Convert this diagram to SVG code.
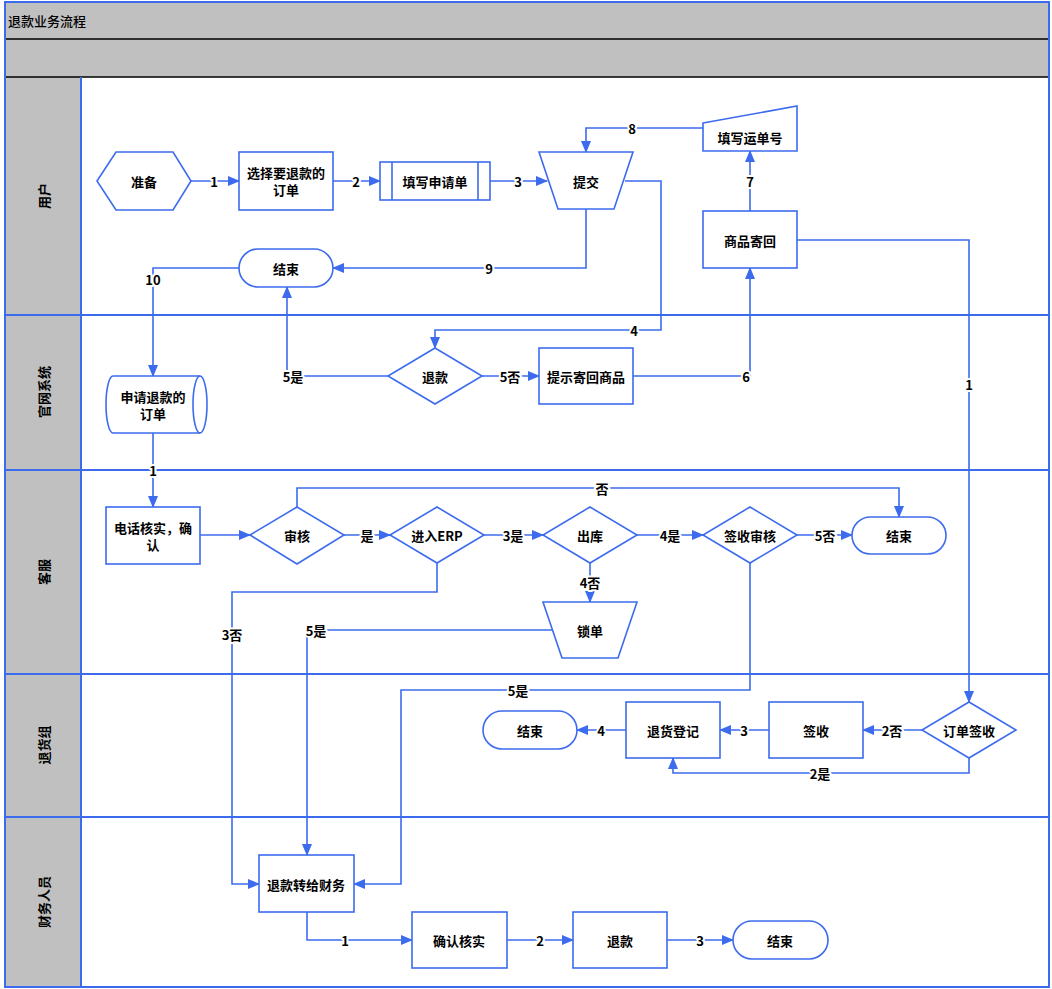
<svg xmlns="http://www.w3.org/2000/svg" width="1052" height="989" viewBox="0 0 1052 989">
<defs>
<marker id="ah" markerUnits="userSpaceOnUse" markerWidth="12" markerHeight="10" refX="11" refY="5" orient="auto">
<path d="M0,0 L12,5 L0,10 Z" fill="#3C6BEE"/>
</marker>
<style>
.frame{fill:none;stroke:#3C6BEE;stroke-width:2}
.hdr{fill:#C0C0C0}
.lanebg{fill:#C0C0C0}
.node{fill:#fff;stroke:#3C6BEE;stroke-width:1.6}
.nline{fill:none;stroke:#3C6BEE;stroke-width:1.6}
.t{font-family:"Noto Sans CJK SC","Microsoft YaHei",sans-serif;font-size:13px;font-weight:600;fill:#000;text-anchor:middle;dominant-baseline:central}
.lane{font-family:"Noto Sans CJK SC",sans-serif;font-size:13px;font-weight:700;fill:#000;text-anchor:middle;dominant-baseline:central}
.title{font-family:"Noto Sans CJK SC",sans-serif;font-size:13px;font-weight:500;fill:#000;dominant-baseline:central}
.c{fill:none;stroke:#3C6BEE;stroke-width:1.6}
.ca{fill:none;stroke:#3C6BEE;stroke-width:1.6;marker-end:url(#ah)}
.lb{font-family:"Noto Sans CJK SC",sans-serif;font-size:13px;font-weight:700;fill:#000;text-anchor:middle;dominant-baseline:central;paint-order:stroke;stroke:#fff;stroke-width:4px;stroke-linejoin:round}
</style>
</defs>
<rect width="1052" height="989" fill="#fff"/>
<g id="pool">
<rect class="hdr" x="5" y="2" width="1044" height="75"/>
<rect class="lanebg" x="5" y="77" width="76" height="910"/>
<line x1="5" y1="39" x2="1049" y2="39" stroke="#000" stroke-width="1.5"/>
<line x1="5" y1="77" x2="1049" y2="77" stroke="#000" stroke-width="1.5"/>
<rect class="frame" x="5" y="2" width="1044" height="985"/>
<line class="frame" x1="81" y1="77" x2="81" y2="987"/>
<line class="frame" x1="5" y1="315" x2="1049" y2="315"/>
<line class="frame" x1="5" y1="470" x2="1049" y2="470"/>
<line class="frame" x1="5" y1="674" x2="1049" y2="674"/>
<line class="frame" x1="5" y1="817" x2="1049" y2="817"/>
<text class="title" x="8" y="20">退款业务流程</text>
<text class="lane" transform="translate(43,196) rotate(-90)">用户</text>
<text class="lane" transform="translate(43,392) rotate(-90)">官网系统</text>
<text class="lane" transform="translate(43,572) rotate(-90)">客服</text>
<text class="lane" transform="translate(43,745) rotate(-90)">退货组</text>
<text class="lane" transform="translate(43,902) rotate(-90)">财务人员</text>
</g>
<g id="connectors">
<line class="ca" x1="191" y1="181" x2="239" y2="181"/>
<line class="ca" x1="333" y1="181" x2="380" y2="181"/>
<line class="ca" x1="490" y1="181" x2="547" y2="181"/>
<polyline class="ca" points="625,181 661,181 661,330 435,330 435,348"/>
<polyline class="ca" points="388,376 287,376 287,287"/>
<line class="ca" x1="482" y1="376" x2="539" y2="376"/>
<polyline class="ca" points="633,376 750,376 750,268"/>
<line class="ca" x1="750" y1="211" x2="750" y2="151"/>
<polyline class="ca" points="703,128 586,128 586,152"/>
<polyline class="ca" points="586,209 586,268 333,268"/>
<polyline class="ca" points="239,268 153,268 153,376"/>
<line class="ca" x1="153" y1="433" x2="153" y2="507"/>
<line class="ca" x1="200" y1="535" x2="250" y2="535"/>
<line class="ca" x1="344" y1="535" x2="390" y2="535"/>
<polyline class="ca" points="297,507 297,488 899,488 899,517"/>
<line class="ca" x1="484" y1="535" x2="543" y2="535"/>
<line class="ca" x1="637" y1="535" x2="703" y2="535"/>
<line class="ca" x1="797" y1="535" x2="852" y2="535"/>
<line class="ca" x1="590" y1="563" x2="590" y2="602"/>
<polyline class="ca" points="437,563 437,592 232,592 232,884 259,884"/>
<polyline class="ca" points="552,630 307,630 307,855"/>
<polyline class="ca" points="750,563 750,690 401,690 401,884 354,884"/>
<polyline class="ca" points="797,240 969,240 969,702"/>
<line class="ca" x1="922" y1="730" x2="863" y2="730"/>
<polyline class="ca" points="969,758 969,773 673,773 673,758"/>
<line class="ca" x1="769" y1="730" x2="720" y2="730"/>
<line class="ca" x1="626" y1="730" x2="577" y2="730"/>
<polyline class="ca" points="307,912 307,940 412,940"/>
<line class="ca" x1="507" y1="940" x2="573" y2="940"/>
<line class="ca" x1="667" y1="940" x2="733" y2="940"/>
<text class="lb" x="214" y="181">1</text>
<text class="lb" x="356" y="181">2</text>
<text class="lb" x="518" y="181">3</text>
<text class="lb" x="634" y="330">4</text>
<text class="lb" x="293" y="376">5是</text>
<text class="lb" x="510" y="376">5否</text>
<text class="lb" x="746" y="376">6</text>
<text class="lb" x="750" y="181">7</text>
<text class="lb" x="632" y="128">8</text>
<text class="lb" x="489" y="268">9</text>
<text class="lb" x="153" y="279">10</text>
<text class="lb" x="153" y="470">1</text>
<text class="lb" x="367" y="535">是</text>
<text class="lb" x="602" y="488">否</text>
<text class="lb" x="513" y="535">3是</text>
<text class="lb" x="670" y="535">4是</text>
<text class="lb" x="825" y="535">5否</text>
<text class="lb" x="590" y="582">4否</text>
<text class="lb" x="232" y="634">3否</text>
<text class="lb" x="316" y="630">5是</text>
<text class="lb" x="518" y="690">5是</text>
<text class="lb" x="969" y="384">1</text>
<text class="lb" x="892" y="730">2否</text>
<text class="lb" x="820" y="773">2是</text>
<text class="lb" x="744" y="730">3</text>
<text class="lb" x="601" y="730">4</text>
<text class="lb" x="345" y="940">1</text>
<text class="lb" x="540" y="940">2</text>
<text class="lb" x="700" y="940">3</text>
</g>
<g id="n-prepare"><polygon class="node" points="97,181 116,152 173,152 191,181 173,210 116,210"/><text class="t" x="144" y="181">准备</text></g>
<g id="n-select"><rect class="node" x="239" y="152" width="94" height="58"/><text class="t" x="286" y="172">选择要退款的</text><text class="t" x="286" y="189">订单</text></g>
<g id="n-fill"><rect class="node" x="380" y="162" width="110" height="38"/><line class="nline" x1="392" y1="162" x2="392" y2="200"/><line class="nline" x1="478" y1="162" x2="478" y2="200"/><text class="t" x="435" y="181">填写申请单</text></g>
<g id="n-submit"><polygon class="node" points="539,152 633,152 614,209 558,209"/><text class="t" x="586" y="181">提交</text></g>
<g id="n-waybill"><polygon class="node" points="703,123 797,106 797,151 703,151"/><text class="t" x="750" y="137">填写运单号</text></g>
<g id="n-sendback"><rect class="node" x="703" y="211" width="94" height="57"/><text class="t" x="750" y="240">商品寄回</text></g>
<g id="n-end1"><rect class="node" x="239" y="249" width="94" height="38" rx="19"/><text class="t" x="286" y="268">结束</text></g>
<g id="n-order"><path class="node" d="M113,376 L200,376 A7,28.5 0 0 1 200,433 L113,433 A7,28.5 0 0 1 113,376 Z"/><path class="nline" d="M200,376 A7,28.5 0 0 0 200,433"/><text class="t" x="153" y="396">申请退款的</text><text class="t" x="153" y="413">订单</text></g>
<g id="n-refund-d"><polygon class="node" points="435,348 482,376 435,404 388,376"/><text class="t" x="435" y="376">退款</text></g>
<g id="n-prompt"><rect class="node" x="539" y="348" width="94" height="56"/><text class="t" x="586" y="376">提示寄回商品</text></g>
<g id="n-phone"><rect class="node" x="106" y="507" width="94" height="57"/><text class="t" x="153" y="527">电话核实，确</text><text class="t" x="153" y="544">认</text></g>
<g id="n-audit"><polygon class="node" points="297,507 344,535 297,564 250,535"/><text class="t" x="297" y="535">审核</text></g>
<g id="n-erp"><polygon class="node" points="437,507 484,535 437,563 390,535"/><text class="t" x="437" y="535">进入ERP</text></g>
<g id="n-out"><polygon class="node" points="590,507 637,535 590,563 543,535"/><text class="t" x="590" y="535">出库</text></g>
<g id="n-signaudit"><polygon class="node" points="750,507 797,535 750,563 703,535"/><text class="t" x="750" y="535">签收审核</text></g>
<g id="n-end2"><rect class="node" x="852" y="517" width="94" height="37" rx="18.5"/><text class="t" x="899" y="535">结束</text></g>
<g id="n-lock"><polygon class="node" points="543,602 637,602 618,658 562,658"/><text class="t" x="590" y="630">锁单</text></g>
<g id="n-ordersign"><polygon class="node" points="969,702 1016,730 969,758 922,730"/><text class="t" x="969" y="730">订单签收</text></g>
<g id="n-sign"><rect class="node" x="769" y="702" width="94" height="56"/><text class="t" x="816" y="730">签收</text></g>
<g id="n-register"><rect class="node" x="626" y="702" width="94" height="56"/><text class="t" x="673" y="730">退货登记</text></g>
<g id="n-end3"><rect class="node" x="483" y="711" width="94" height="38" rx="19"/><text class="t" x="530" y="730">结束</text></g>
<g id="n-transfer"><rect class="node" x="259" y="855" width="95" height="57"/><text class="t" x="306" y="884">退款转给财务</text></g>
<g id="n-confirm"><rect class="node" x="412" y="912" width="95" height="56"/><text class="t" x="459" y="940">确认核实</text></g>
<g id="n-refund"><rect class="node" x="573" y="912" width="94" height="56"/><text class="t" x="620" y="940">退款</text></g>
<g id="n-end4"><rect class="node" x="733" y="921" width="95" height="38" rx="19"/><text class="t" x="780" y="940">结束</text></g>
</svg>
